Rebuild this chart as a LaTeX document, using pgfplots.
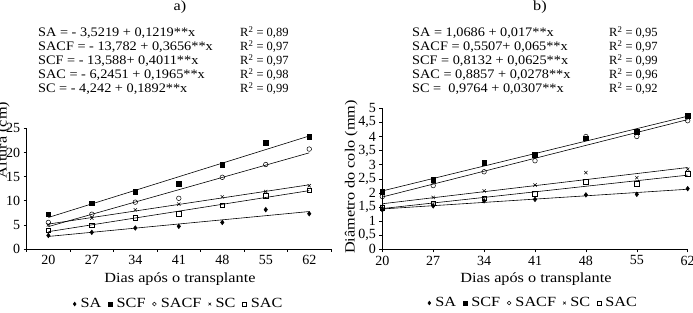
\documentclass[border=0pt]{standalone}
\usepackage{fontspec}
\setmainfont{Liberation Serif}
\newfontfamily\widefont{Liberation Serif}[FakeStretch=1.16]
\newfontfamily\eqfamily{Liberation Serif}[FakeStretch=1.1]
\usepackage{pgfplots}
\pgfplotsset{compat=1.18}

\newcommand\lblfont{\widefont\fontsize{14bp}{16bp}\selectfont}
\newcommand\eqfont{\eqfamily\fontsize{13bp}{15bp}\selectfont}
\newcommand\rfont{\fontsize{12.5bp}{15bp}\selectfont}

\pgfplotsset{
  trend/.style={black, line width=0.6bp, no marks, forget plot},
  pts/.style={only marks, black, mark options={solid, line width=0.5bp}, mark size=2.3bp},
  panel/.style={
    scale only axis, anchor=south west,
    axis x line*=bottom, axis y line*=left,
    axis line style={-, line width=0.6bp},
    tick style={black, line width=0.6bp},
    tick align=outside, major tick length=3bp, minor tick length=3bp,
    ticklabel style={font=\fontsize{14bp}{16bp}\selectfont},
    /pgf/number format/assume math mode=true,
    legend columns=5,
    legend image code/.code={\draw[mark repeat=2,mark phase=2, mark size=1.9bp] plot coordinates {(0bp,0bp) (2bp,0bp) (4bp,0bp)};},
    legend style={draw=none, fill=none, anchor=center,
      font=\lblfont,
      /tikz/every odd column/.append style={column sep=2.5bp},
      /tikz/every even column/.append style={column sep=5bp}},
  },
}

\begin{document}
\begin{tikzpicture}

% ---------- a) Altura ----------
\begin{axis}[panel,
  at={(26.6bp,64bp)}, width=304.4bp, height=120.7bp,
  xmin=16.5, xmax=65.5, ymin=0, ymax=25,
  xtick={20,27,34,41,48,55,62}, major x tick style={draw=none},
  minor xtick={16.5,23.5,30.5,37.5,44.5,51.5,58.5,65.5},
  ytick={0,5,10,15,20,25},
  legend style={at={(axis description cs:0.50,-0.456)}},
]
\addplot[pts, mark=diamond*] coordinates {(20,2.8) (27,3.45) (34,4.35) (41,4.7) (48,5.5) (55,8.15) (62,7.3)};
\addlegendentry{SA}
\addplot[pts, mark=square*] coordinates {(20,7.2) (27,9.5) (34,11.9) (41,13.5) (48,17.4) (55,22.0) (62,23.3)};
\addlegendentry{SCF}
\addplot[pts, mark=o] coordinates {(20,5.5) (27,7.2) (34,9.7) (41,10.5) (48,14.85) (55,17.5) (62,20.7)};
\addlegendentry{SACF}
\addplot[pts, mark=x] coordinates {(20,5.0) (27,6.4) (34,8.1) (41,9.3) (48,10.8) (55,11.9) (62,13.1)};
\addlegendentry{SC}
\addplot[pts, mark=square] coordinates {(20,3.9) (27,4.9) (34,6.5) (41,7.3) (48,9.1) (55,11.05) (62,12.15)};
\addlegendentry{SAC}
% fitted lines
\addplot[trend] coordinates {(20,2.60) (62,7.76)};
\addplot[trend] coordinates {(20,6.53) (62,23.41)};
\addplot[trend] coordinates {(20,4.64) (62,19.92)};
\addplot[trend] coordinates {(20,5.16) (62,13.30)};
\addplot[trend] coordinates {(20,3.59) (62,12.09)};
\end{axis}

% ---------- b) Diametro ----------
\begin{axis}[panel,
  at={(382.3bp,63.7bp)}, width=305.4bp, height=141bp,
  xmin=20, xmax=62, ymin=0, ymax=5,
  xtick={20,27,34,41,48,55,62},
  ytick={0,0.5,...,5},
  yticklabel style={/pgf/number format/use comma},
  legend style={at={(axis description cs:0.495,-0.381)}},
]
\addplot[pts, mark=diamond*] coordinates {(20,1.40) (27,1.54) (34,1.72) (41,1.77) (48,1.93) (55,1.95) (62,2.15)};
\addlegendentry{SA}
\addplot[pts, mark=square*] coordinates {(20,2.04) (27,2.46) (34,3.07) (41,3.35) (48,3.94) (55,4.17) (62,4.73)};
\addlegendentry{SCF}
\addplot[pts, mark=o] coordinates {(20,1.87) (27,2.26) (34,2.75) (41,3.14) (48,4.00) (55,4.00) (62,4.56)};
\addlegendentry{SACF}
\addplot[pts, mark=x] coordinates {(20,1.52) (27,1.84) (34,2.07) (41,2.28) (48,2.72) (55,2.54) (62,2.84)};
\addlegendentry{SC}
\addplot[pts, mark=square] coordinates {(20,1.48) (27,1.63) (34,1.81) (41,1.96) (48,2.39) (55,2.32) (62,2.67)};
\addlegendentry{SAC}
% fitted lines
\addplot[trend] coordinates {(20,1.43) (62,2.13)};
\addplot[trend] coordinates {(20,2.07) (62,4.72)};
\addplot[trend] coordinates {(20,1.855) (62,4.60)};
\addplot[trend] coordinates {(20,1.615) (62,2.90)};
\addplot[trend] coordinates {(20,1.445) (62,2.63)};
\end{axis}

% axis titles and panel letters
\begin{scope}[x=1bp, y=1bp, every node/.style={font=\lblfont, inner sep=0pt}]
\node[anchor=base] at (180,31) {Dias após o transplante};
\node[anchor=base] at (536,30.5) {Dias após o transplante};
\node[anchor=base, rotate=90] at (6.5,173) {Altura (cm)};
\node[anchor=base, rotate=90] at (354.5,136) {Diâmetro do colo (mm)};
\node[anchor=base] at (180,303) {a)};
\node[anchor=base] at (540,303) {b)};
\end{scope}

% regression equations
\begin{scope}[x=1bp, y=1bp, every node/.style={font=\eqfont, inner sep=0pt, anchor=base west}]
\node at (38,276.3) {SA = - 3,5219 + 0,1219**x};
\node at (38,262.3) {SACF = - 13,782 + 0,3656**x};
\node at (38,248.3) {SCF = - 13,588+ 0,4011**x};
\node at (38,234.3) {SAC = - 6,2451 + 0,1965**x};
\node at (38,220.3) {SC = - 4,242 + 0,1892**x};
\node at (412,276.3) {SA = 1,0686 + 0,017**x};
\node at (412,262.3) {SACF = 0,5507+ 0,065**x};
\node at (412,248.3) {SCF = 0,8132 + 0,0625**x};
\node at (412,234.3) {SAC = 0,8857 + 0,0278**x};
\node at (412,220.3) {SC =\ \ 0,9764 + 0,0307**x};
\end{scope}
\begin{scope}[x=1bp, y=1bp, every node/.style={font=\rfont, inner sep=0pt, anchor=base west}]
\node at (240,276.3) {R\textsuperscript{2} = 0,89};
\node at (240,262.3) {R\textsuperscript{2} = 0,97};
\node at (240,248.3) {R\textsuperscript{2} = 0,97};
\node at (240,234.3) {R\textsuperscript{2} = 0,98};
\node at (240,220.3) {R\textsuperscript{2} = 0,99};
\node at (609,276.3) {R\textsuperscript{2} = 0,95};
\node at (609,262.3) {R\textsuperscript{2} = 0,97};
\node at (609,248.3) {R\textsuperscript{2} = 0,99};
\node at (609,234.3) {R\textsuperscript{2} = 0,96};
\node at (609,220.3) {R\textsuperscript{2} = 0,92};
\end{scope}

\pgfresetboundingbox
\path[use as bounding box] (0,0) rectangle (693bp,313bp);
\end{tikzpicture}
\end{document}
